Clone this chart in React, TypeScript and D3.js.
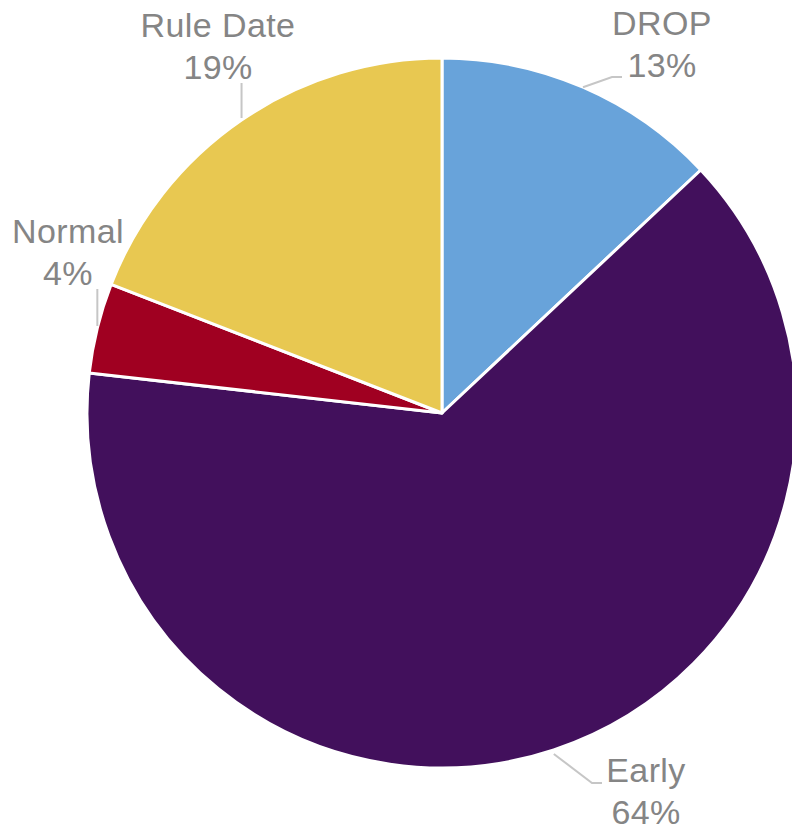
import React from "react";
import * as d3 from "d3";

const categories = ["DROP", "Early", "Normal", "Rule Date"];
const values = [13.0, 63.8, 4.1, 19.1];
const labelsPct = ["13%", "64%", "4%", "19%"];
const colors = ["#68A3DA", "#42105C", "#A00021", "#E8C851"];

const W = 792;
const H = 831;
const cx = 442;
const cy = 413;
const R = 355;

const labelPos: Record<string, { x: number; y: number }> = {
  DROP: { x: 662, y: 35 },
  Early: { x: 646, y: 782 },
  Normal: { x: 68, y: 243 },
  "Rule Date": { x: 218, y: 37 },
};

export default function App() {
  const pie = d3.pie<number>().sort(null).value((d) => d);
  const arcs = pie(values);
  const arcGen = d3.arc<d3.PieArcDatum<number>>().innerRadius(0).outerRadius(R);

  const leader = (i: number) => {
    const a = arcs[i];
    const mid = (a.startAngle + a.endAngle) / 2;
    const sx = cx + R * Math.sin(mid);
    const sy = cy - R * Math.cos(mid);
    const name = categories[i];
    const lp = labelPos[name];
    if (name === "DROP") {
      const ey = lp.y + 42;
      return `M${sx},${sy}L${lp.x - 50},${ey}L${lp.x - 40},${ey}`;
    }
    if (name === "Early") {
      const ey = lp.y + 1;
      return `M${sx},${sy + 4}L${lp.x - 54},${ey}L${lp.x - 44},${ey}`;
    }
    return `M${sx},${sy - 2}L${sx},${lp.y + 46}`;
  };

  return (
    <svg
      width={W}
      height={H}
      style={{ position: "absolute", left: 0, top: 0, background: "#fff" }}
      fontFamily="'Liberation Sans', Arial, sans-serif"
    >
      <g transform={`translate(${cx},${cy})`}>
        {arcs.map((a, i) => (
          <path
            key={categories[i]}
            d={arcGen(a) || ""}
            fill={colors[i]}
            stroke="#ffffff"
            strokeWidth={3}
            strokeLinejoin="round"
          />
        ))}
      </g>
      {arcs.map((_, i) => (
        <path
          key={"l" + i}
          d={leader(i)}
          fill="none"
          stroke="#c6c6c6"
          strokeWidth={2}
        />
      ))}
      {categories.map((c, i) => {
        const lp = labelPos[c];
        return (
          <text
            key={"t" + c}
            x={lp.x}
            y={lp.y}
            textAnchor="middle"
            fill="#858585"
            fontSize={34}
            letterSpacing={0.4}
          >
            <tspan x={lp.x} y={lp.y}>
              {c}
            </tspan>
            <tspan x={lp.x} y={lp.y + 42}>
              {labelsPct[i]}
            </tspan>
          </text>
        );
      })}
    </svg>
  );
}
